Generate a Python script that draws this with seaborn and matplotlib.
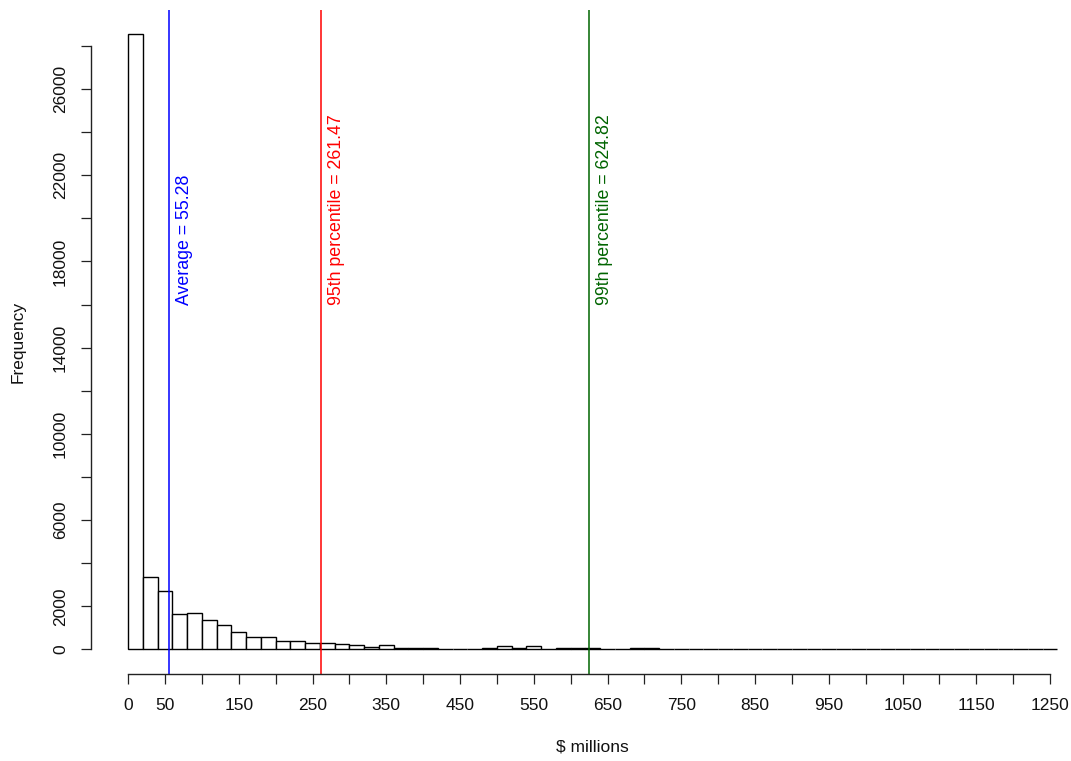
import numpy as np
import pandas as pd
import matplotlib
matplotlib.use("Agg")
import matplotlib.pyplot as plt
import seaborn as sns

# Histogram counts, bins of width 20 ($ millions) from 0 to 1260
bin_left = list(range(0, 1260, 20))
counts = [28550, 3350, 2730, 1640, 1690, 1380, 1150, 790, 590, 590,
          370, 370, 310, 310, 250, 190, 120, 190, 70, 70,
          70, 8, 5, 8, 60, 140, 70, 140, 10, 55,
          55, 55, 10, 8, 55, 55, 6, 4, 3, 5,
          2, 3, 4, 2, 3, 2, 1, 2, 3, 1,
          2, 1, 1, 2, 1, 1, 2, 1, 1, 1,
          1, 1, 1]

# Reference lines
line_values = [55.28, 261.47, 624.82]
line_labels = ["Average = 55.28", "95th percentile = 261.47", "99th percentile = 624.82"]
line_colors = ["#0000FF", "#FF0000", "#006400"]

# Axis ticks
x_ticks = list(range(0, 1300, 50))
x_tick_labels = [str(v) if (v == 0 or v % 100 == 50) else "" for v in x_ticks]
y_ticks = list(range(0, 30000, 2000))
y_tick_labels = [str(v) if (v in (0, 2000) or (v - 2000) % 4000 == 0) and v != 28000 else "" for v in y_ticks]

sns.set_style("ticks")
plt.rcParams['font.family'] = ['Liberation Sans', 'DejaVu Sans']

df = pd.DataFrame({"x": [b + 10 for b in bin_left], "n": counts})

fig = plt.figure(figsize=(10.71, 7.61), dpi=100)
ax = fig.add_axes([91 / 1071, 87 / 761, 1003.6 / 1071, 664.5 / 761])

sns.histplot(data=df, x="x", weights="n", binwidth=20, binrange=(0, 1260),
             color="white", edgecolor="black", linewidth=1.0, alpha=1,
             ax=ax)

for v, lab, c in zip(line_values, line_labels, line_colors):
    ax.axvline(v, color=c, linewidth=1.1)
    ax.text(v + 20.5, 16000, lab, rotation=90, color=c, fontsize=12.8,
            ha="center", va="bottom")

ax.set_xlim(-50.4, 1310.4)
ax.set_ylim(-1142, 29692)
ax.set_xticks(x_ticks)
ax.set_xticklabels(x_tick_labels)
ax.set_yticks(y_ticks)
ax.set_yticklabels(y_tick_labels, rotation=90, va="center")
ax.tick_params(axis="both", direction="out", length=7.5, width=0.9,
               labelsize=12.5, colors="#222222", labelcolor="#111111")
ax.tick_params(axis="x", pad=10)
ax.tick_params(axis="y", pad=9)

sns.despine(ax=ax, top=True, right=True)
ax.spines["left"].set_bounds(0, 28000)
ax.spines["bottom"].set_bounds(0, 1250)
for s in ("left", "bottom"):
    ax.spines[s].set_linewidth(1.0)
    ax.spines[s].set_color("#222222")

ax.set_xlabel("$ millions", fontsize=12.5, labelpad=19, color="#111111")
ax.set_ylabel("Frequency", fontsize=12.5, labelpad=20, color="#111111")

fig.savefig("out.png", dpi=100)
